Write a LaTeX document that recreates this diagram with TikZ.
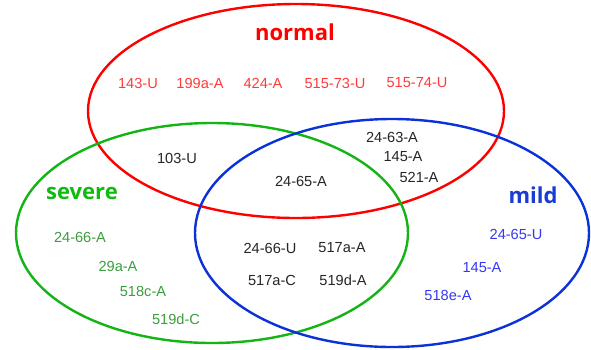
\documentclass[tikz,border=0pt]{standalone}
\usepackage{fontspec}
\setmainfont{Liberation Sans}
\newfontfamily\headfont{Open Sans}
\definecolor{redline}{HTML}{FF0000}
\definecolor{redtext}{HTML}{FF3B3B}
\definecolor{greenline}{HTML}{14B414}
\definecolor{greenhead}{HTML}{10BB10}
\definecolor{greentext}{HTML}{3C9E3C}
\definecolor{blueline}{HTML}{0A32D8}
\definecolor{bluehead}{HTML}{1A3CD2}
\definecolor{bluetext}{HTML}{3838F4}
\definecolor{blacktext}{HTML}{262626}
\begin{document}
\begin{tikzpicture}[x=1pt,y=-1pt,
  setline/.style={line width=2.4pt},
  lab/.style={inner sep=0pt, font=\fontsize{14.6}{16}\selectfont},
  head/.style={inner sep=0pt, font=\headfont\bfseries\fontsize{22}{25}\selectfont}]
\useasboundingbox (0,0) rectangle (591,349);
\fill[white] (0,0) rectangle (591,349);
% sets
\draw[setline, redline] (296,111) ellipse [x radius=208pt, y radius=107pt];
\draw[setline, greenline] (212,233) ellipse [x radius=196pt, y radius=110pt];
\draw[setline, blueline] (392,233) ellipse [x radius=197pt, y radius=114pt];
% headings
\node[head, text=redline] (hnormal) at (295,32) {normal};
\node[head, text=greenhead] (hsevere) at (82,193) {severe};
\node[head, text=bluehead] (hmild) at (533,195) {mild};
% normal only
\node[lab, text=redtext] (n1) at (138,83) {143-U};
\node[lab, text=redtext] (n2) at (200,83) {199a-A};
\node[lab, text=redtext] (n3) at (263,83) {424-A};
\node[lab, text=redtext] (n4) at (335,83) {515-73-U};
\node[lab, text=redtext] (n5) at (417,83) {515-74-U};
% normal & severe
\node[lab, text=blacktext] (ns1) at (177,158) {103-U};
% all three
\node[lab, text=blacktext] (a1) at (301,181) {24-65-A};
% normal & mild
\node[lab, text=blacktext] (nm1) at (392,137) {24-63-A};
\node[lab, text=blacktext] (nm2) at (403,157) {145-A};
\node[lab, text=blacktext] (nm3) at (419,177) {521-A};
% severe & mild
\node[lab, text=blacktext] (sm1) at (270,248) {24-66-U};
\node[lab, text=blacktext] (sm2) at (342,248) {517a-A};
\node[lab, text=blacktext] (sm3) at (272,280) {517a-C};
\node[lab, text=blacktext] (sm4) at (343,280) {519d-A};
% severe only
\node[lab, text=greentext] (s1) at (80,237) {24-66-A};
\node[lab, text=greentext] (s2) at (118,266) {29a-A};
\node[lab, text=greentext] (s3) at (143,291) {518c-A};
\node[lab, text=greentext] (s4) at (176,319) {519d-C};
% mild only
\node[lab, text=bluetext] (m1) at (516,234) {24-65-U};
\node[lab, text=bluetext] (m2) at (482,268) {145-A};
\node[lab, text=bluetext] (m3) at (448,295) {518e-A};
\end{tikzpicture}
\end{document}
